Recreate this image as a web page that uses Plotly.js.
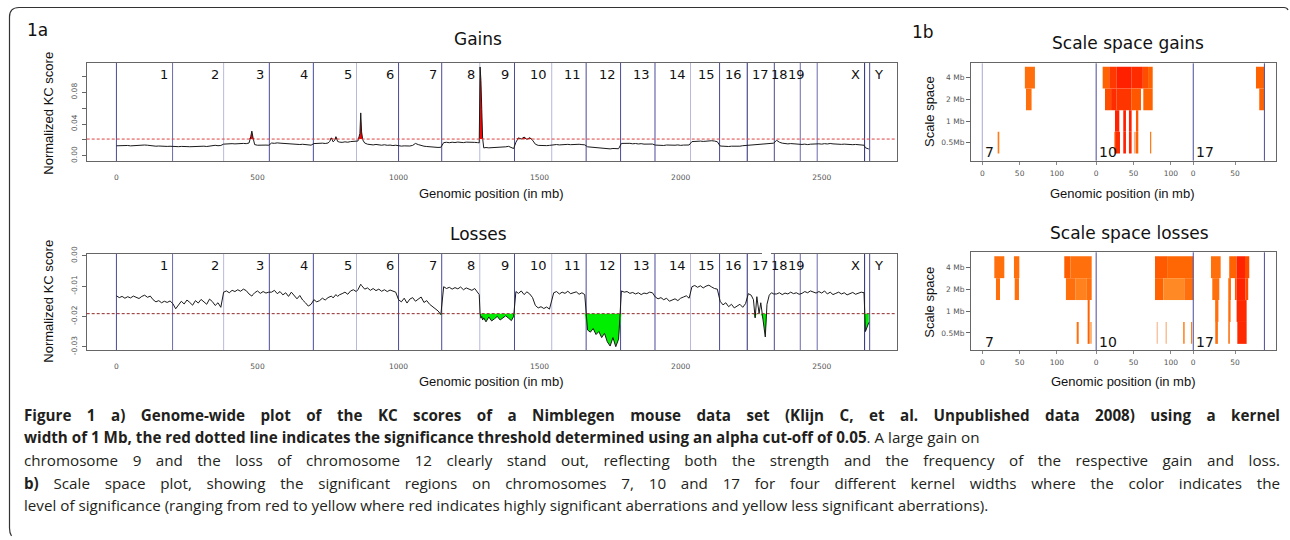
<!DOCTYPE html>
<html><head><meta charset="utf-8">
<script src="https://cdn.plot.ly/plotly-3.0.1.min.js"></script>
<style>html,body{margin:0;padding:0;background:#fff}#chart{width:1290px;height:540px}</style>
</head><body><div id="chart"></div>
<script>
// ---------------- DATA ----------------
const chromNames = ['1','2','3','4','5','6','7','8','9','10','11','12','13','14','15','16','17','18','19','X','Y'];
const chromEnds  = [199,380,542,698,851,1000,1153,1288,1411,1543,1665,1787,1909,2035,2138,2236,2332,2424,2484,2652,2670];
const gainThreshold = 0.021;
const lossThreshold = -0.0191;

// genomic positions (mb) of the KC-score samples
const position = [
 0,10,20,30,40,50,60,70,80,90,100,110,120,130,140,150,160,170,180,190,
 200,210,220,230,240,250,260,270,280,290,300,310,320,330,340,350,360,370,
 380,390,400,410,420,430,440,450,460,470,476,480,484,490,500,510,520,530,540,
 550,560,570,580,590,600,610,620,630,640,650,660,670,680,690,
 700,710,720,730,740,750,756,762,768,774,778,784,790,800,810,820,830,840,850,
 856,860,863,866,869,873,880,890,900,910,920,930,940,950,960,970,980,990,
 1000,1010,1020,1030,1040,1050,1060,1070,1080,1090,1100,1110,1120,1130,1140,1150,
 1160,1170,1180,1190,1200,1210,1220,1230,1240,1250,1260,1270,1280,
 1286,1289,1292,1295,1298,1302,1310,1320,1330,1340,1350,1360,1370,1380,1390,1400,1408,
 1416,1425,1435,1445,1455,1465,1475,1485,1495,1505,1515,1525,1535,
 1550,1560,1570,1580,1590,1600,1610,1620,1630,1640,1650,1660,
 1670,1680,1690,1700,1710,1720,1730,1740,1750,1760,1770,1780,
 1790,1800,1810,1820,1830,1840,1850,1860,1870,1880,1890,1900,
 1910,1920,1930,1940,1950,1960,1970,1980,1990,2000,2010,2020,2030,
 2040,2050,2060,2070,2080,2090,2100,2110,2120,2130,
 2140,2150,2160,2170,2180,2190,2200,2210,2220,2230,
 2240,2250,2258,2264,2270,2278,2284,2292,2300,2306,2314,2322,2330,
 2340,2350,2360,2370,2380,2390,2400,2410,2420,
 2430,2440,2450,2460,2470,2480,
 2490,2500,2510,2520,2530,2540,2550,2560,2570,2580,2590,2600,2610,2620,2630,2640,2650,
 2655,2661,2667
];

// normalized KC score, gains
const gainScore = [
 0.0125,0.0128,0.0123,0.0126,0.0129,0.0124,0.0127,0.0122,0.0126,0.0130,0.0135,0.0132,0.0127,0.0123,0.0120,0.0122,0.0118,0.0121,0.0117,0.0119,
 0.0116,0.0118,0.0114,0.0117,0.0119,0.0115,0.0113,0.0116,0.0118,0.0114,0.0117,0.0120,0.0116,0.0122,0.0128,0.0131,0.0126,0.0129,
 0.0146,0.0150,0.0147,0.0152,0.0149,0.0153,0.0150,0.0155,0.0152,0.0160,0.0240,0.0310,0.0230,0.0140,0.0132,0.0135,0.0131,0.0134,0.0132,
 0.0160,0.0156,0.0162,0.0158,0.0155,0.0160,0.0154,0.0151,0.0148,0.0145,0.0141,0.0144,0.0138,0.0135,0.0133,
 0.0153,0.0156,0.0151,0.0158,0.0154,0.0160,0.0180,0.0225,0.0175,0.0195,0.0240,0.0180,0.0172,0.0168,0.0175,0.0170,0.0178,0.0180,0.0185,
 0.0185,0.0240,0.0280,0.0540,0.0300,0.0200,0.0160,0.0145,0.0140,0.0136,0.0142,0.0135,0.0132,0.0138,0.0131,0.0134,0.0128,0.0132,
 0.0125,0.0121,0.0124,0.0119,0.0122,0.0130,0.0155,0.0140,0.0126,0.0120,0.0116,0.0112,0.0110,0.0107,0.0104,0.0106,
 0.0165,0.0169,0.0164,0.0170,0.0166,0.0172,0.0168,0.0165,0.0171,0.0167,0.0163,0.0168,0.0165,
 0.0162,0.1120,0.0950,0.0580,0.0220,0.0098,0.0103,0.0099,0.0101,0.0097,0.0104,0.0100,0.0106,0.0112,0.0118,0.0105,0.0090,
 0.0170,0.0225,0.0210,0.0235,0.0205,0.0228,0.0195,0.0145,0.0130,0.0126,0.0131,0.0127,0.0130,
 0.0138,0.0141,0.0136,0.0140,0.0137,0.0143,0.0139,0.0142,0.0138,0.0144,0.0140,0.0137,
 0.0112,0.0108,0.0105,0.0101,0.0096,0.0099,0.0093,0.0090,0.0086,0.0091,0.0085,0.0088,
 0.0155,0.0158,0.0152,0.0156,0.0150,0.0154,0.0148,0.0152,0.0146,0.0149,0.0144,0.0147,
 0.0134,0.0130,0.0133,0.0129,0.0135,0.0131,0.0128,0.0132,0.0136,0.0130,0.0134,0.0138,0.0135,
 0.0178,0.0182,0.0179,0.0184,0.0180,0.0186,0.0183,0.0189,0.0185,0.0176,
 0.0122,0.0118,0.0121,0.0116,0.0120,0.0117,0.0123,0.0120,0.0126,0.0129,
 0.0130,0.0134,0.0131,0.0138,0.0142,0.0139,0.0145,0.0148,0.0152,0.0150,0.0156,0.0152,0.0158,
 0.0195,0.0170,0.0158,0.0152,0.0149,0.0153,0.0148,0.0151,0.0147,
 0.0142,0.0146,0.0140,0.0145,0.0148,0.0143,
 0.0150,0.0146,0.0152,0.0148,0.0154,0.0149,0.0145,0.0148,0.0143,0.0146,0.0141,0.0144,0.0139,0.0142,0.0138,0.0135,0.0132,
 0.0100,0.0092,0.0084
];

// normalized KC score, losses
const lossScore = [
 -0.0132,-0.0138,-0.0134,-0.0140,-0.0135,-0.0139,-0.0133,-0.0136,-0.0141,-0.0134,-0.0130,-0.0137,-0.0133,-0.0145,-0.0152,-0.0148,-0.0155,-0.0150,-0.0154,-0.0149,
 -0.0158,-0.0175,-0.0162,-0.0150,-0.0159,-0.0146,-0.0154,-0.0163,-0.0148,-0.0156,-0.0144,-0.0152,-0.0160,-0.0143,-0.0151,-0.0164,-0.0155,-0.0170,
 -0.0120,-0.0116,-0.0122,-0.0114,-0.0118,-0.0112,-0.0117,-0.0110,-0.0115,-0.0126,-0.0130,-0.0133,-0.0128,-0.0122,-0.0116,-0.0124,-0.0118,-0.0123,-0.0120,
 -0.0120,-0.0114,-0.0125,-0.0118,-0.0129,-0.0122,-0.0134,-0.0120,-0.0130,-0.0142,-0.0131,-0.0146,-0.0155,-0.0166,-0.0160,
 -0.0145,-0.0152,-0.0148,-0.0140,-0.0146,-0.0138,-0.0135,-0.0133,-0.0139,-0.0132,-0.0128,-0.0134,-0.0129,-0.0125,-0.0120,-0.0127,-0.0116,-0.0112,-0.0118,
 -0.0112,-0.0106,-0.0100,-0.0094,-0.0098,-0.0104,-0.0110,-0.0106,-0.0114,-0.0108,-0.0115,-0.0110,-0.0117,-0.0112,-0.0118,-0.0113,-0.0116,-0.0120,
 -0.0145,-0.0152,-0.0140,-0.0156,-0.0143,-0.0138,-0.0150,-0.0142,-0.0136,-0.0154,-0.0148,-0.0160,-0.0168,-0.0174,-0.0182,-0.0194,
 -0.0102,-0.0108,-0.0104,-0.0110,-0.0105,-0.0109,-0.0103,-0.0112,-0.0106,-0.0110,-0.0114,-0.0108,-0.0120,
 -0.0128,-0.0190,-0.0206,-0.0200,-0.0212,-0.0205,-0.0218,-0.0202,-0.0215,-0.0208,-0.0200,-0.0212,-0.0204,-0.0198,-0.0206,-0.0214,-0.0200,
 -0.0118,-0.0124,-0.0116,-0.0128,-0.0119,-0.0126,-0.0138,-0.0164,-0.0172,-0.0168,-0.0174,-0.0169,-0.0176,
 -0.0122,-0.0118,-0.0126,-0.0120,-0.0124,-0.0117,-0.0125,-0.0121,-0.0119,-0.0127,-0.0122,-0.0128,
 -0.0245,-0.0252,-0.0240,-0.0260,-0.0250,-0.0270,-0.0256,-0.0284,-0.0298,-0.0270,-0.0300,-0.0275,
 -0.0116,-0.0120,-0.0118,-0.0124,-0.0121,-0.0126,-0.0122,-0.0128,-0.0123,-0.0125,-0.0120,-0.0122,
 -0.0136,-0.0142,-0.0138,-0.0145,-0.0140,-0.0150,-0.0146,-0.0142,-0.0148,-0.0140,-0.0136,-0.0132,-0.0140,
 -0.0102,-0.0098,-0.0104,-0.0099,-0.0106,-0.0100,-0.0097,-0.0103,-0.0108,-0.0110,
 -0.0150,-0.0162,-0.0155,-0.0168,-0.0160,-0.0172,-0.0165,-0.0160,-0.0170,-0.0158,
 -0.0125,-0.0130,-0.0145,-0.0205,-0.0135,-0.0190,-0.0155,-0.0210,-0.0268,-0.0160,-0.0130,-0.0122,-0.0126,
 -0.0126,-0.0122,-0.0128,-0.0123,-0.0126,-0.0120,-0.0125,-0.0122,-0.0127,
 -0.0124,-0.0118,-0.0122,-0.0116,-0.0119,-0.0123,
 -0.0118,-0.0123,-0.0116,-0.0126,-0.0120,-0.0128,-0.0124,-0.0120,-0.0126,-0.0122,-0.0129,-0.0124,-0.0121,-0.0127,-0.0123,-0.0120,-0.0122,
 -0.0250,-0.0235,-0.0220
];

// scale space (1b): chromosomes shown and their lengths (mb)
const ssChroms = [7, 10, 17];
const ssChromLengths = [152.5, 130.0, 95.3];
const ssRowLabels = ['0.5Mb', '1 Mb', '2 Mb', '4 Mb'];
const ssTickChrom = [7, 7, 7, 10, 10, 10, 17, 17];
const ssTickLocal = [0, 50, 100, 0, 50, 100, 0, 56];
const ssTickText  = ['0', '50', '100', '0', '50', '100', '0', '50'];

// significant segments, gains (row 1 = 0.5Mb ... 4 = 4 Mb; level 0 = red, 1 = yellow)
const ssGainChrom = [7,7,7, 10,10,10,10,10,10, 10,10,10,10,10, 10,10,10,10, 10,10,10,10,10,10,10, 17,17];
const ssGainRow   = [4,3,1, 4,4,4,4,4,4, 3,3,3,3,3, 2,2,2,2, 1,1,1,1,1,1,1, 4,3];
const ssGainStart = [57,58.5,20.6, 8.7,17.5,27.5,47.5,62.5,69.5, 11.8,20,27,47,63.1, 25.2,36.3,43.9,53.3, 24.2,25.4,36.3,43.9,50.5,53.3,72.1, 84,88.4];
const ssGainEnd   = [70.5,66,22.8, 17.5,27.5,47.5,62.5,69.5,75.7, 20,27,47,60,75.7, 31,39.9,47.5,56.4, 25.4,31.9,39.9,47.5,53.3,56.4,73.8, 94.7,94.7];
const ssGainLevel = [0.45,0.45,0.5, 0.4,0.2,0.04,0.12,0.3,0.4, 0.3,0.12,0.18,0.35,0.4, 0.05,0.03,0.05,0.35, 0.5,0.12,0.05,0.1,0.75,0.4,0.5, 0.4,0.4];

// significant segments, losses
const ssLossChrom = [7,7,7,7, 7,7,7,7,7, 7, 7,7,7, 10,10, 10,10,10, 10,10,10,10, 17,17,17,17, 17,17,17,17,17, 17,17,17, 17,17,17];
const ssLossRow   = [4,4,4,4, 3,3,3,3,3, 2, 1,1,1, 4,4, 3,3,3, 1,1,1,1, 4,4,4,4, 3,3,3,3,3, 2,2,2, 1,1,1];
const ssLossStart = [16.1,42.4,109.8,118, 18.3,43.4,112,125,140, 141.1, 126.4,141.1,144.6, 78.8,95, 78.8,90,118, 81,93,116.5,127, 23.7,48.2,58.1,69.3, 25.5,46.9,55.8,58.1,70, 29.3,46.9,58.1, 29.5,46.9,59];
const ssLossEnd   = [29.5,49.6,118,146.5, 23.7,49.1,125,140,146.5, 143.8, 129.1,143.8,146.5, 95,130, 90,118,130, 82.5,94.5,118.5,128.5, 36.7,58.1,69.3,75, 34.9,50.5,58.1,70,73.6, 33.7,50,71.5, 33,49,71.5];
const ssLossLevel = [0.45,0.45,0.38,0.45, 0.45,0.45,0.45,0.52,0.45, 0.4, 0.45,0.4,0.62, 0.36,0.42, 0.4,0.55,0.45, 0.75,0.7,0.5,0.5, 0.45,0.4,0.06,0.3, 0.45,0.45,0.35,0.06,0.3, 0.45,0.45,0.1, 0.45,0.45,0.1];

// ---------------- STYLE / LAYOUT ----------------
const W = 1290, H = 540;
const PX = x => x / W, PY = y => 1 - y / H;
const boundaries = [0].concat(chromEnds);
const boundaryColor = ['#4a4a9a','#6a6ab0','#b8b8dc','#4a4a9a','#4a4a9a','#b8b8dc','#4a4a9a','#4a4a9a','#b8b8dc','#4a4a9a','#b8b8dc',
  '#4a4a9a','#4a4a9a','#4a4a9a','#b8b8dc','#4a4a9a','#2a2a78','#4a4a9a','#6a6ab0','#6a6ab0','#2a2a78','#4a4a9a'];
const labelShift = {'18': -10, '19': -10};

const ssOffset = {};
let acc = 0;
ssChroms.forEach((c, i) => { ssOffset[c] = acc; acc += ssChromLengths[i]; });
const ssTotal = acc;
const ssPad = ssTotal * 0.04;

const ssScale = [[0,'#ff1a00'],[0.2,'#ff3800'],[0.4,'#ff6200'],[0.55,'#ff8a25'],[0.75,'#f6b48a'],[1,'#ffe2b0']];

const traces = [];
function kcTraces(vals, thr, fillColor, xa, ya, above) {
  traces.push({x: position, y: position.map(() => thr), xaxis: xa, yaxis: ya, mode: 'lines',
    line: {width: 0, color: 'rgba(0,0,0,0)'}, hoverinfo: 'skip'});
  traces.push({x: position, y: vals.map(v => above ? Math.max(v, thr) : Math.min(v, thr)), xaxis: xa, yaxis: ya,
    mode: 'lines', fill: 'tonexty', fillcolor: fillColor, line: {width: 0, color: fillColor}, hoverinfo: 'skip'});
  traces.push({x: position, y: vals, xaxis: xa, yaxis: ya, mode: 'lines',
    line: {width: 1, color: '#1a1a1a'}, hoverinfo: 'skip'});
}
kcTraces(gainScore, gainThreshold, '#ff0000', 'x', 'y', true);
kcTraces(lossScore, lossThreshold, '#00ee00', 'x2', 'y2', false);

function ssTrace(ch, row, st, en, lv, xa, ya) {
  traces.push({type: 'bar', orientation: 'h', xaxis: xa, yaxis: ya,
    y: row, base: st.map((s, i) => ssOffset[ch[i]] + s), x: en.map((e, i) => e - st[i]),
    width: row.map(() => 1),
    marker: {color: lv, colorscale: ssScale, cmin: 0, cmax: 1, showscale: false, line: {width: 0}},
    hoverinfo: 'skip'});
}
ssTrace(ssGainChrom, ssGainRow, ssGainStart, ssGainEnd, ssGainLevel, 'x3', 'y3');
ssTrace(ssLossChrom, ssLossRow, ssLossStart, ssLossEnd, ssLossLevel, 'x4', 'y4');

const tickFont = {family: 'DejaVu Sans', size: 7.5, color: '#555'};
const frame = {showline: true, mirror: true, linecolor: '#666', linewidth: 1, showgrid: false, zeroline: false};

function kcX() {
  return Object.assign({}, frame, {domain: [PX(86.7), PX(896.7)], range: [-105.4, 2765.8],
    tickvals: [0, 500, 1000, 1500, 2000, 2500], ticks: '', tickfont: tickFont, ticklabelstandoff: 9});
}
const layout = {
  width: W, height: H, margin: {l: 0, r: 0, t: 0, b: 0}, paper_bgcolor: '#fff', plot_bgcolor: '#fff',
  showlegend: false, barmode: 'overlay',
  xaxis: Object.assign(kcX(), {anchor: 'y'}),
  yaxis: Object.assign({}, frame, {anchor: 'x', domain: [PY(161), PY(63)], range: [-0.0067, 0.117],
    tickvals: [0, 0.02, 0.04, 0.06, 0.08, 0.10], ticktext: ['0.00', '', '0.04', '', '0.08', ''],
    ticks: 'outside', ticklen: 4, tickcolor: '#666', tickangle: -90, tickfont: tickFont, ticklabelstandoff: 2}),
  xaxis2: Object.assign(kcX(), {anchor: 'y2'}),
  yaxis2: Object.assign({}, frame, {anchor: 'x2', domain: [PY(350), PY(254)], range: [-0.0311, 0.0006],
    tickvals: [0, -0.01, -0.02, -0.03], ticktext: ['0.00', '-0.01', '-0.02', '-0.03'],
    ticks: 'outside', ticklen: 4, tickcolor: '#666', tickangle: -90, tickfont: tickFont, ticklabelstandoff: 2}),
  xaxis3: Object.assign({}, frame, {anchor: 'y3', domain: [PX(971), PX(1275.7)], range: [-ssPad, ssTotal + ssPad],
    tickvals: ssTickChrom.map((c, i) => ssOffset[c] + ssTickLocal[i]), ticktext: ssTickText,
    ticks: 'outside', ticklen: 3, tickcolor: '#888', tickfont: tickFont, ticklabelstandoff: 2}),
  yaxis3: Object.assign({}, frame, {anchor: 'x3', domain: [PY(160.7), PY(63.3)], range: [0.17, 4.66],
    tickvals: [1, 2, 3, 4], ticktext: ssRowLabels, ticks: 'outside', ticklen: 4, tickcolor: '#666', tickfont: tickFont}),
  xaxis4: Object.assign({}, frame, {anchor: 'y4', domain: [PX(971), PX(1275.7)], range: [-ssPad, ssTotal + ssPad],
    tickvals: ssTickChrom.map((c, i) => ssOffset[c] + ssTickLocal[i]), ticktext: ssTickText,
    ticks: 'outside', ticklen: 3, tickcolor: '#888', tickfont: tickFont, ticklabelstandoff: 2}),
  yaxis4: Object.assign({}, frame, {anchor: 'x4', domain: [PY(350), PY(252.3)], range: [0.22, 4.68],
    tickvals: [1, 2, 3, 4], ticktext: ssRowLabels, ticks: 'outside', ticklen: 4, tickcolor: '#666', tickfont: tickFont}),
  shapes: [], annotations: []
};

// chromosome boundary lines + labels
[['x', 'y', 75], ['x2', 'y2', 265]].forEach(([xa, ya, labY]) => {
  boundaries.forEach((b, i) => {
    layout.shapes.push({type: 'line', xref: xa, yref: ya + ' domain', x0: b, x1: b, y0: 0, y1: 1,
      line: {color: boundaryColor[i], width: 1}, layer: 'below'});
  });
  chromNames.forEach((n, i) => {
    const isY = n === 'Y';
    layout.annotations.push({text: n, xref: xa, yref: 'paper', x: chromEnds[i], y: PY(labY),
      xanchor: isY ? 'left' : 'right', yanchor: 'middle', xshift: isY ? 2 : (labelShift[n] || -3),
      showarrow: false, font: {family: 'DejaVu Sans', size: 13, color: '#111'}});
  });
});
// thresholds
layout.shapes.push({type: 'line', xref: 'x domain', yref: 'y', x0: 0, x1: 1, y0: gainThreshold, y1: gainThreshold,
  line: {color: '#e04040', width: 1, dash: '3px,2px'}});
layout.shapes.push({type: 'line', xref: 'x2 domain', yref: 'y2', x0: 0, x1: 1, y0: lossThreshold, y1: lossThreshold,
  line: {color: '#902828', width: 1, dash: '3px,2px'}});
// scale-space chromosome lines and labels
[['x3', 'y3', true, 152], ['x4', 'y4', false, 341.7]].forEach(([xa, ya, withStart, labY]) => {
  const bl = [];
  if (withStart) bl.push([0, '#a8a8d8']);
  ssChroms.forEach((c, i) => bl.push([ssOffset[c] + ssChromLengths[i], '#4a4a9a']));
  bl.forEach(([b, col]) => layout.shapes.push({type: 'line', xref: xa, yref: ya + ' domain', x0: b, x1: b, y0: 0, y1: 1,
    line: {color: col, width: 1}}));
  ssChroms.forEach(c => layout.annotations.push({text: String(c), xref: xa, yref: 'paper', x: ssOffset[c], y: PY(labY),
    xanchor: 'left', yanchor: 'middle', xshift: 1, showarrow: false, font: {family: 'DejaVu Sans', size: 14, color: '#111'}}));
});
// small gap in the top frame of the Losses panel
layout.shapes.push({type: 'line', xref: 'paper', yref: 'paper', x0: PX(762), x1: PX(771), y0: PY(254), y1: PY(254),
  line: {color: '#fff', width: 3}});

// figure border (left + top, rounded corner)
const P = (x, y) => `${PX(x)},${PY(y)}`;
layout.shapes.push({type: 'path', xref: 'paper', yref: 'paper',
  path: `M ${P(11.5, 536)} Q ${P(9.5, 533)} ${P(9.5, 528)} L ${P(9.5, 17)} Q ${P(9.5, 7.5)} ${P(19, 7.5)} L ${P(1284, 7.5)} Q ${P(1287, 7.5)} ${P(1288, 10)}`,
  line: {color: '#333', width: 1.2}});

function ann(text, x, y, size, family, opts) {
  layout.annotations.push(Object.assign({text, xref: 'paper', yref: 'paper', x: PX(x), y: PY(y),
    xanchor: 'center', yanchor: 'middle', showarrow: false, font: {family, size, color: '#111'}}, opts || {}));
}
ann('1a', 37, 30, 17, 'DejaVu Sans');
ann('1b', 923, 31.7, 17, 'DejaVu Sans');
ann('Gains', 478, 39, 17, 'DejaVu Sans');
ann('Losses', 478, 234, 17, 'DejaVu Sans');
ann('Scale space gains', 1128, 43, 17, 'DejaVu Sans');
ann('Scale space losses', 1129, 233, 17, 'DejaVu Sans');
ann('Genomic position (in mb)', 491, 193, 13, 'Liberation Sans');
ann('Genomic position (in mb)', 491, 381, 13, 'Liberation Sans');
ann('Genomic position (in mb)', 1122.5, 193, 13, 'Liberation Sans');
ann('Genomic position (in mb)', 1123, 381.5, 13, 'Liberation Sans');
ann('Normalized KC score', 47.7, 113, 13, 'Liberation Sans', {textangle: -90});
ann('Normalized KC score', 47.7, 301, 13, 'Liberation Sans', {textangle: -90});
ann('Scale space', 930, 111, 13, 'Liberation Sans', {textangle: -90});
ann('Scale space', 930, 301.7, 13, 'Liberation Sans', {textangle: -90});

// caption
const caption = [
  '<b>Figure 1 a) Genome-wide plot of the KC scores of a Nimblegen mouse data set (Klijn C, et al. Unpublished data 2008) using a kernel</b>',
  '<b>width of 1 Mb, the red dotted line indicates the significance threshold determined using an alpha cut-off of 0.05</b>. A large gain on',
  'chromosome 9 and the loss of chromosome 12 clearly stand out, reflecting both the strength and the frequency of the respective gain and loss.',
  '<b>b)</b> Scale space plot, showing the significant regions on chromosomes 7, 10 and 17 for four different kernel widths where the color indicates the',
  'level of significance (ranging from red to yellow where red indicates highly significant aberrations and yellow less significant aberrations).'
];
const captionY = [415, 437, 460, 483, 505];
const justify = [true, false, true, true, false];
const capIdx = [];
caption.forEach((t, i) => {
  capIdx.push(layout.annotations.length);
  ann(t, 22, captionY[i], 15.2, 'Open Sans', {xanchor: 'left', align: 'left', font: {family: 'Open Sans', size: 15.2, color: '#231f20'}});
});

Plotly.newPlot('chart', traces, layout, {staticPlot: true}).then(() => {
  capIdx.forEach((idx, i) => {
    if (!justify[i]) return;
    const el = document.querySelector(`.annotation[data-index="${idx}"] text`);
    if (!el) return;
    const target = 1278 - 22;
    const natural = el.getComputedTextLength();
    const spaces = (el.textContent.match(/ /g) || []).length;
    if (natural < target && spaces > 0) {
      const x0 = el.getBBox().x;
      el.style.wordSpacing = ((target - natural) / spaces) + 'px';
      const x1 = el.getBBox().x;
      if (Math.abs(x1 - x0) > 0.5) {
        const tr = el.getAttribute('transform') || '';
        el.setAttribute('transform', tr + ` translate(${x0 - x1},0)`);
      }
    }
  });
});
</script></body></html>
